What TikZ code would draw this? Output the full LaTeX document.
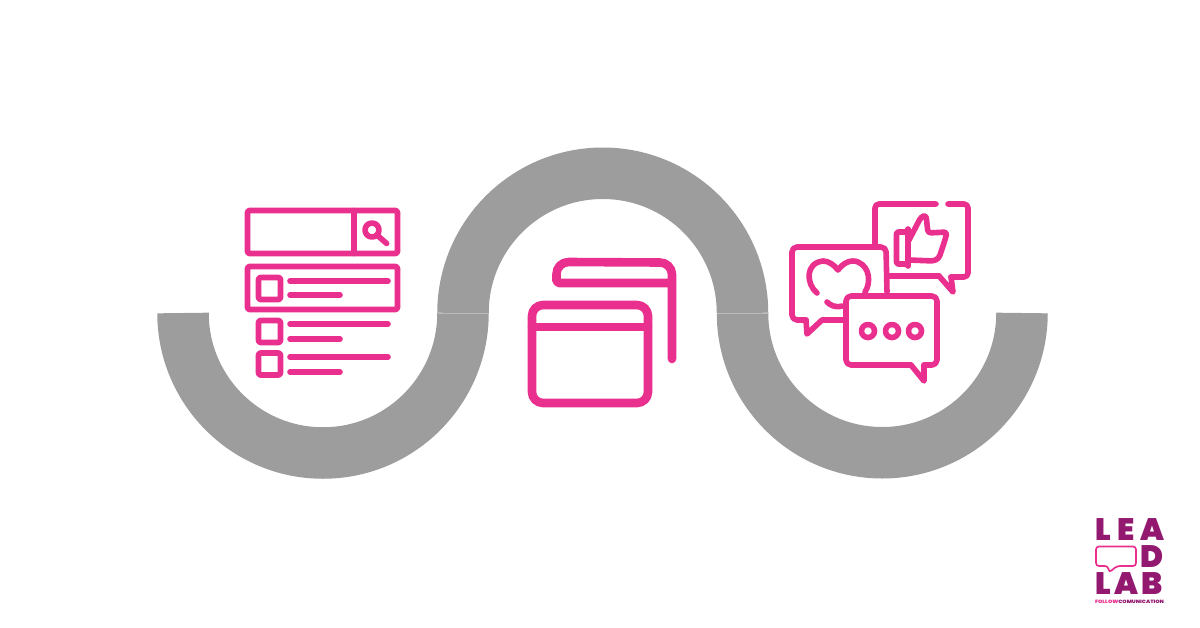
\documentclass[tikz,border=0pt]{standalone}
\usepackage{fontspec}
\usepackage{graphicx}
\setmainfont{Poppins}
\newfontfamily\logofont{Poppins}[UprightFont=* Black]
\definecolor{rose}{HTML}{EA308E}
\definecolor{plum}{HTML}{93186F}
\definecolor{band}{HTML}{9D9D9D}
\tikzset{
  ribbon/.style={draw=band,line width=51.5pt},
  seam/.style={draw=band!70!white,line width=0.6pt},
  ico/.style={draw=rose,line width=5.6pt,line cap=round,line join=round},
  wide/.style={draw=rose,line width=8.6pt,line cap=round,line join=round},
  logoletter/.style={text=plum,inner sep=0pt,text height=21pt,text depth=0pt,font=\fontsize{31}{31}\selectfont\logofont},
}
\begin{document}
\begin{tikzpicture}[x=1pt,y=-1pt]
\useasboundingbox (0,0) rectangle (1200,627);
% gray ribbon
\draw[ribbon] (183,313) arc[start angle=180,end angle=360,radius=140pt];
\draw[ribbon] (463,313) arc[start angle=180,end angle=0,radius=139.75pt];
\draw[ribbon] (742.5,313) arc[start angle=180,end angle=360,radius=139.75pt];
\draw[seam] (437.5,313) -- (488.5,313);
\draw[seam] (717,313) -- (768,313);
% search icon
\draw[ico,rounded corners=1.5pt] (247.5,210.5) rectangle (397.5,253.5);
\draw[ico] (354,210.5) -- (354,253.5);
\draw[ico] (372,230) circle[radius=7pt];
\draw[ico] (377.5,235.5) -- (386.7,243.5);
\draw[ico,rounded corners=1.5pt] (247.5,266.5) rectangle (397.5,309.5);
\draw[ico,rounded corners=2pt] (258.5,277.5) rectangle (280.5,299.5);
\draw[ico] (290,281) -- (388,281);
\draw[ico] (290,295) -- (340,295);
\draw[ico,rounded corners=2pt] (258.5,320.5) rectangle (280.5,342.5);
\draw[ico] (290,324) -- (388,324);
\draw[ico] (290,339) -- (340,339);
\draw[ico,rounded corners=2pt] (258.5,353) rectangle (280.5,375);
\draw[ico] (290,357) -- (388,357);
\draw[ico] (290,372) -- (340,372);
% windows icon
\draw[wide,rounded corners=11pt] (532,305) rectangle (648,403);
\draw[wide] (532,327) -- (648,327);
\draw[wide] (672,283) -- (559,283) -- (556.5,281) -- (556.5,274) arc[start angle=180,end angle=90,radius=12pt] -- (660,262.5) arc[start angle=90,end angle=0,radius=12pt] -- (672,359);
% thumb bubble
\draw[ico,rounded corners=4pt] (875,245) -- (875,204) -- (936,204);
\draw[ico,rounded corners=4pt] (948,204) -- (968,204) -- (968,277) -- (951,277);
\draw[ico] (951,277) -- (953,292) -- (939,276);
\draw[ico] (939,276) -- (888,276);
% thumb
\draw[ico,rounded corners=2pt] (908,232) -- (896.5,232) -- (896.5,264) -- (908,264);
\draw[ico] (908,229) -- (908,266);
\draw[ico,rounded corners=3pt] (909,240) -- (921,217) -- (926,215) -- (928,233) -- (947,232) -- (945,240) -- (939,258) -- (934,261) -- (909,260);
% heart bubble
\draw[ico,rounded corners=5pt] (887,292) -- (886,247) -- (792,247) -- (792,320) -- (806,320);
\draw[ico] (806,320) -- (807,334) -- (822,320) -- (843,320);
% heart
\draw[ico] (817,293) .. controls (806,284) and (805,263) .. (823,261) .. controls (829,261) and (834,265) .. (838,270) .. controls (843,263) and (851,259) .. (858,262) .. controls (870,267) and (871,283) .. (865,292);
\draw[ico] (827,302) .. controls (830,305) and (835,308) .. (842,306);
% chat bubble
\draw[ico,rounded corners=5pt] (911,365) -- (846,365) -- (846,296) -- (937,296) -- (937,365) -- (924,365);
\draw[ico] (911,365) -- (924,381) -- (924,365);
\draw[ico] (868,331) circle[radius=6.5pt];
\draw[ico] (892,331) circle[radius=6.5pt];
\draw[ico] (915,331) circle[radius=6.5pt];
% logo
\node[logoletter] (l1) at (1103,529.5) {L};
\node[logoletter] (l2) at (1126,529.5) {E};
\node[logoletter] (l3) at (1152,529.5) {A};
\node[logoletter] (l4) at (1152,556.5) {D};
\node[logoletter] (l5) at (1103,584) {L};
\node[logoletter] (l6) at (1126,584) {A};
\node[logoletter] (l7) at (1152,584) {B};
\draw[draw=rose,line width=1.7pt,rounded corners=3pt] (1096,546.5) -- (1136,546.5) -- (1136,566) -- (1117,566) -- (1109,572.5) -- (1108,566) -- (1096,566) -- cycle;
\node[inner sep=0pt] (foot) at (1129.5,601.5) {\resizebox{69pt}{3.4pt}{\logofont\textcolor{rose}{FOLLOW}\textcolor{plum}{COMUNICATION}}};
\end{tikzpicture}
\end{document}
